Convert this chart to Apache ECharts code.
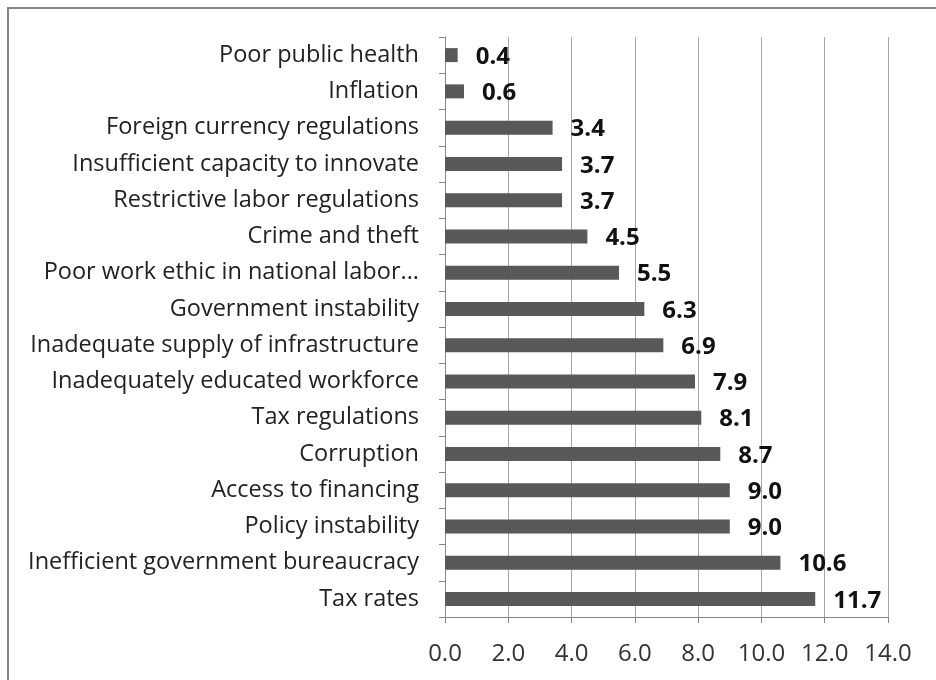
<!DOCTYPE html>
<html>
<head>
<meta charset="utf-8">
<script src="https://cdn.jsdelivr.net/npm/echarts@6/dist/echarts.min.js"></script>
<style>
html, body { margin: 0; padding: 0; background: #fff; }
#main { width: 936px; height: 680px; }
</style>
</head>
<body>
<div id="main"></div>
<script>
// bottom to top, as the category axis draws them
var categories = [
  'Tax rates',
  'Inefficient government bureaucracy',
  'Policy instability',
  'Access to financing',
  'Corruption',
  'Tax regulations',
  'Inadequately educated workforce',
  'Inadequate supply of infrastructure',
  'Government instability',
  'Poor work ethic in national labor...',
  'Crime and theft',
  'Restrictive labor regulations',
  'Insufficient capacity to innovate',
  'Foreign currency regulations',
  'Inflation',
  'Poor public health'
];
var values = [11.7, 10.6, 9.0, 9.0, 8.7, 8.1, 7.9, 6.9, 6.3, 5.5, 4.5, 3.7, 3.7, 3.4, 0.6, 0.4];

var fontName = 'Open Sans';

var chart = echarts.init(document.getElementById('main'));

var option = {
  animation: false,
  backgroundColor: '#fff',
  graphic: [{
    type: 'rect',
    shape: { x: 8, y: 8, width: 940, height: 690 },
    style: { fill: 'none', stroke: '#868686', lineWidth: 2 },
    silent: true
  }],
  grid: { left: 445, right: 48, top: 37, bottom: 63 },
  xAxis: {
    type: 'value',
    min: 0,
    max: 14,
    interval: 2,
    axisLine: { show: true, lineStyle: { color: '#868686', width: 1 } },
    axisTick: { show: true, length: 6, lineStyle: { color: '#868686' } },
    splitLine: { show: true, lineStyle: { color: '#a6a6a6', width: 1 } },
    axisLabel: {
      color: '#333',
      fontFamily: fontName,
      fontSize: 24,
      margin: 25,
      formatter: function (v) { return v.toFixed(1); }
    }
  },
  yAxis: {
    type: 'category',
    data: categories,
    axisLine: { show: true, lineStyle: { color: '#868686', width: 1 } },
    axisTick: { show: true, length: 6, alignWithLabel: false, lineStyle: { color: '#868686' } },
    axisLabel: {
      color: '#222',
      fontFamily: fontName,
      fontSize: 23.5,
      margin: 26,
      interval: 0
    }
  },
  series: [{
    type: 'bar',
    data: values,
    barWidth: 14,
    itemStyle: { color: '#595959' },
    label: {
      show: true,
      position: 'right',
      distance: 18,
      offset: [0, 2],
      color: '#111',
      fontFamily: fontName,
      fontWeight: 'bold',
      fontSize: 24,
      formatter: function (p) { return p.value.toFixed(1); }
    }
  }]
};

chart.setOption(option);
</script>
</body>
</html>
